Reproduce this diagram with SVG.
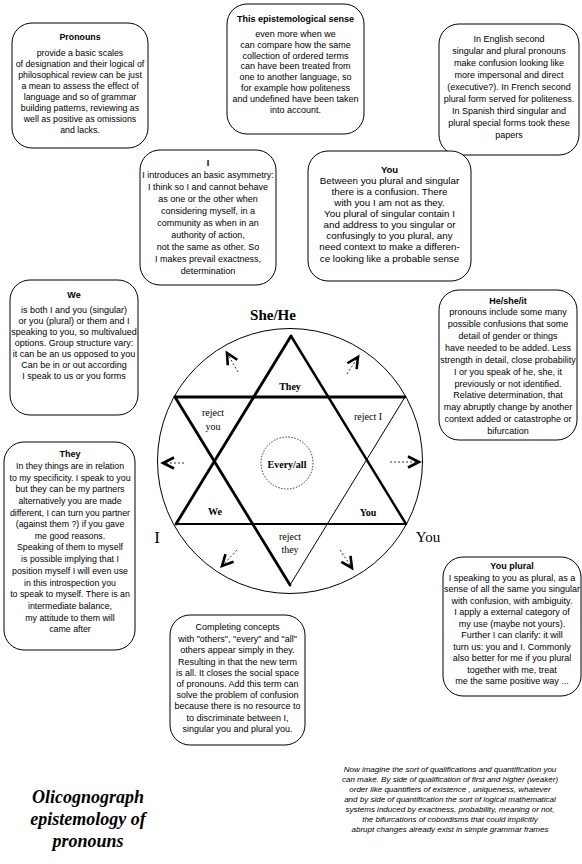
<svg xmlns="http://www.w3.org/2000/svg" width="582" height="864" viewBox="0 0 582 864">
<style>
.box{fill:#fff;stroke:#000;stroke-width:1}
.t{font-family:"Liberation Sans",Arial,sans-serif;font-size:9px;text-anchor:middle;fill:#000}
.b{font-weight:bold}
.s{font-family:"Liberation Serif","Times New Roman",serif;text-anchor:middle;fill:#000}
.sl{font-size:10px}
.thick{stroke:#000;stroke-width:2.6;fill:none;stroke-linecap:round}
.thin{stroke:#000;stroke-width:1;fill:none}
.dash{stroke:#000;stroke-width:0.8;stroke-dasharray:2 2;fill:none;marker-end:url(#chev)}
.bt{font-family:"Liberation Sans",Arial,sans-serif;font-size:8px;font-style:italic;text-anchor:middle;fill:#000}
.title{font-family:"Liberation Serif","Times New Roman",serif;font-size:18px;font-weight:bold;font-style:italic;text-anchor:middle;fill:#000}
</style>
<defs>
<marker id="chev" markerUnits="userSpaceOnUse" markerWidth="18" markerHeight="16" viewBox="-14 -8 18 16" refX="0" refY="0" orient="auto">
<path d="M-11,-5.5 L0,0 L-11,5.5" fill="none" stroke="#000" stroke-width="2.6"/>
</marker>
</defs>
<rect width="582" height="864" fill="#fff"/>

<g id="pronouns" style="font-size:8.8px">
<rect class="box" x="12" y="23" width="136" height="125" rx="20"/>
<text class="t b" x="80" y="40" style="font-size:8.8px">Pronouns</text>
<g class="t" style="font-size:8.8px">
<text x="80" y="56">provide a basic scales</text>
<text x="80" y="67">of designation and their logical of</text>
<text x="80" y="78">philosophical review can be just</text>
<text x="80" y="89">a mean to assess the effect of</text>
<text x="80" y="100">language and so of grammar</text>
<text x="80" y="111">building patterns, reviewing as</text>
<text x="80" y="122">well as positive as omissions</text>
<text x="80" y="133">and lacks.</text>
</g>
</g>

<g id="epistemological">
<rect class="box" x="227" y="4" width="137" height="130" rx="20"/>
<text class="t b" x="295.5" y="22">This epistemological sense</text>
<g class="t">
<text x="295.5" y="37">even more when we</text>
<text x="295.5" y="48">can compare how the same</text>
<text x="295.5" y="58.5">collection of ordered terms</text>
<text x="295.5" y="69">can have been treated from</text>
<text x="295.5" y="80">one to another language, so</text>
<text x="295.5" y="91">for example how politeness</text>
<text x="295.5" y="102">and undefined  have been taken</text>
<text x="295.5" y="112.5">into account.</text>
</g>
</g>

<g id="english">
<rect class="box" x="439" y="24" width="140" height="131" rx="20"/>
<g class="t">
<text x="509" y="42">In English second</text>
<text x="509" y="54">singular and plural pronouns</text>
<text x="509" y="66">make confusion looking like</text>
<text x="509" y="78">more impersonal and direct</text>
<text x="509" y="90">(executive?). In French second</text>
<text x="509" y="102">plural form served for politeness.</text>
<text x="509" y="114">In Spanish third singular and</text>
<text x="509" y="126">plural special forms took these</text>
<text x="509" y="138">papers</text>
</g>
</g>

<g id="i">
<rect class="box" x="140" y="150" width="136" height="135" rx="20"/>
<text class="t b" x="208" y="166">I</text>
<g class="t">
<text x="208" y="178">I introduces an basic asymmetry:</text>
<text x="208" y="190">I think so I and cannot behave</text>
<text x="208" y="202">as one or the other when</text>
<text x="208" y="214">considering myself, in a</text>
<text x="208" y="226">community as when in an</text>
<text x="208" y="238">authority of action,</text>
<text x="208" y="250">not the same as other. So</text>
<text x="208" y="262">I makes prevail exactness,</text>
<text x="208" y="274">determination</text>
</g>
</g>

<g id="you">
<rect class="box" x="308" y="151" width="163" height="130" rx="20"/>
<text class="t b" x="389.5" y="173" style="font-size:9.5px">You</text>
<g class="t" style="font-size:9.8px">
<text x="389.5" y="184">Between you plural and singular</text>
<text x="389.5" y="195">there is a confusion. There</text>
<text x="389.5" y="206">with you I am not as they.</text>
<text x="389.5" y="217">You plural of singular contain I</text>
<text x="389.5" y="228">and address to  you singular or</text>
<text x="389.5" y="239">confusingly to  you plural, any</text>
<text x="389.5" y="250">need context to make a differen-</text>
<text x="389.5" y="262">ce looking like a probable sense</text>
</g>
</g>

<g id="we">
<rect class="box" x="10" y="280" width="128" height="135" rx="20"/>
<text class="t b" x="74" y="298">We</text>
<g class="t">
<text x="74" y="313">is both I and you (singular)</text>
<text x="74" y="324">or you (plural) or them and I</text>
<text x="74" y="335">speaking to you, so multivalued</text>
<text x="74" y="346">options. Group structure vary:</text>
<text x="74" y="357">it can be an us opposed to you</text>
<text x="74" y="368">Can be in or out  according</text>
<text x="74" y="379">I speak to us or you forms</text>
</g>
</g>

<g id="heshe">
<rect class="box" x="439" y="290" width="138" height="150" rx="20"/>
<text class="t b" x="508" y="304">He/she/it</text>
<g class="t">
<text x="508" y="315">pronouns include some many</text>
<text x="508" y="327">possible confusions that some</text>
<text x="508" y="339">detail of gender or things</text>
<text x="508" y="351">have needed to be added. Less</text>
<text x="508" y="363">strength in detail, close probability</text>
<text x="508" y="375">I or you speak of he, she, it</text>
<text x="508" y="387">previously or not identified.</text>
<text x="508" y="398">Relative determination, that</text>
<text x="508" y="410">may abruptly change by another</text>
<text x="508" y="422">context added or catastrophe or</text>
<text x="508" y="434">bifurcation</text>
</g>
</g>

<g id="they">
<rect class="box" x="4" y="442" width="131" height="208" rx="20"/>
<text class="t b" x="70" y="457">They</text>
<g class="t" style="font-size:8.8px">
<text x="70" y="469">In they things are in relation</text>
<text x="70" y="481">to my specificity.  I speak to you</text>
<text x="70" y="492">but they can be my partners</text>
<text x="70" y="504">alternatively you are made</text>
<text x="70" y="516">different, I can turn you partner</text>
<text x="70" y="527">(against them ?) if you gave</text>
<text x="70" y="539">me good reasons.</text>
<text x="70" y="550">Speaking of them to myself</text>
<text x="70" y="562">is possible implying that I</text>
<text x="70" y="574">position myself I will even use</text>
<text x="70" y="586">in this introspection you</text>
<text x="70" y="597">to speak to myself.  There is an</text>
<text x="70" y="609">intermediate balance,</text>
<text x="70" y="621">my attitude to them will</text>
<text x="70" y="632">came after</text>
</g>
</g>

<g id="youplural">
<rect class="box" x="443" y="557" width="138" height="139" rx="20"/>
<text class="t b" x="512" y="569">You plural</text>
<g class="t">
<text x="512" y="580.5">I speaking to you as plural, as a</text>
<text x="512" y="592">sense of all the same  you singular</text>
<text x="512" y="603.5">with confusion, with ambiguity.</text>
<text x="512" y="615">I apply a external category of</text>
<text x="512" y="626.5">my use (maybe not yours).</text>
<text x="512" y="638">Further I can  clarify: it will</text>
<text x="512" y="649.5">turn us: you and I. Commonly</text>
<text x="512" y="661">also better for me if you plural</text>
<text x="512" y="672.5">together with me, treat</text>
<text x="512" y="684">me the same positive way ...</text>
</g>
</g>

<g id="completing">
<rect class="box" x="170" y="615" width="135" height="130" rx="20"/>
<g class="t">
<text x="237.5" y="630">Completing concepts</text>
<text x="237.5" y="642">with "others", "every" and "all"</text>
<text x="237.5" y="653">others  appear simply in they.</text>
<text x="237.5" y="665">Resulting in that the new term</text>
<text x="237.5" y="676">is all. It closes the social space</text>
<text x="237.5" y="687">of pronouns. Add this term can</text>
<text x="237.5" y="698">solve the problem of confusion</text>
<text x="237.5" y="709">because there is no resource to</text>
<text x="237.5" y="721">to discriminate between I,</text>
<text x="237.5" y="732">singular you and plural you.</text>
</g>
</g>

<g id="star">
<circle cx="290" cy="461" r="132.5" class="thin"/>
<line class="thick" x1="291" y1="336" x2="176" y2="524" style="stroke-width:2.8"/>
<line class="thick" x1="291" y1="336" x2="406" y2="524" style="stroke-width:2.4"/>
<line class="thick" x1="176" y1="524" x2="406" y2="524" style="stroke-width:2"/>
<line class="thick" x1="175" y1="397" x2="405" y2="397" style="stroke-width:2.8"/>
<line class="thick" x1="175" y1="397" x2="290" y2="585" style="stroke-width:2.8"/>
<line class="thin" x1="405" y1="397" x2="290" y2="585"/>
<circle cx="287" cy="463" r="26" fill="none" stroke="#000" stroke-width="0.8" stroke-dasharray="1.5 1.5"/>
<text class="s" x="273" y="320" style="font-size:15px;font-weight:bold">She/He</text>
<text class="s" x="157" y="543" style="font-size:17px">I</text>
<text class="s" x="428" y="542" style="font-size:15px">You</text>
<text class="s sl b" x="290" y="390">They</text>
<text class="s sl" x="213" y="416">reject</text>
<text class="s sl" x="213" y="430">you</text>
<text class="s sl" x="368" y="420">reject I</text>
<text class="s sl b" x="287" y="468">Every/all</text>
<text class="s sl b" x="215" y="515">We</text>
<text class="s sl b" x="368" y="516">You</text>
<text class="s sl" x="290" y="540">reject</text>
<text class="s sl" x="290" y="553">they</text>
</g>

<g id="connectors">
<line class="dash" x1="184" y1="463" x2="163" y2="463"/>
<line class="dash" x1="390" y1="462" x2="419" y2="462"/>
<line class="dash" x1="238" y1="372" x2="227" y2="353"/>
<line class="dash" x1="347" y1="374" x2="358" y2="357"/>
<line class="dash" x1="237" y1="550" x2="222" y2="566"/>
<line class="dash" x1="340" y1="550" x2="352" y2="568"/>
</g>

<g id="title">
<text class="title" x="88" y="803">Olicognograph</text>
<text class="title" x="88" y="825">epistemology of</text>
<text class="title" x="88" y="847">pronouns</text>
</g>

<g id="note">
<text class="bt" x="450" y="772">Now imagine the sort of qualifications and quantification you</text>
<text class="bt" x="450" y="782">can make. By side of qualification of first and higher (weaker)</text>
<text class="bt" x="450" y="792">order like quantifiers of existence , uniqueness, whatever</text>
<text class="bt" x="450" y="802">and by side of quantification the sort of logical mathematical</text>
<text class="bt" x="450" y="812">systems induced by exactness, probability, meaning or not,</text>
<text class="bt" x="450" y="822">the bifurcations of cobordisms that could implicitly</text>
<text class="bt" x="450" y="832">abrupt changes already exist in simple grammar frames</text>
</g>
</svg>
